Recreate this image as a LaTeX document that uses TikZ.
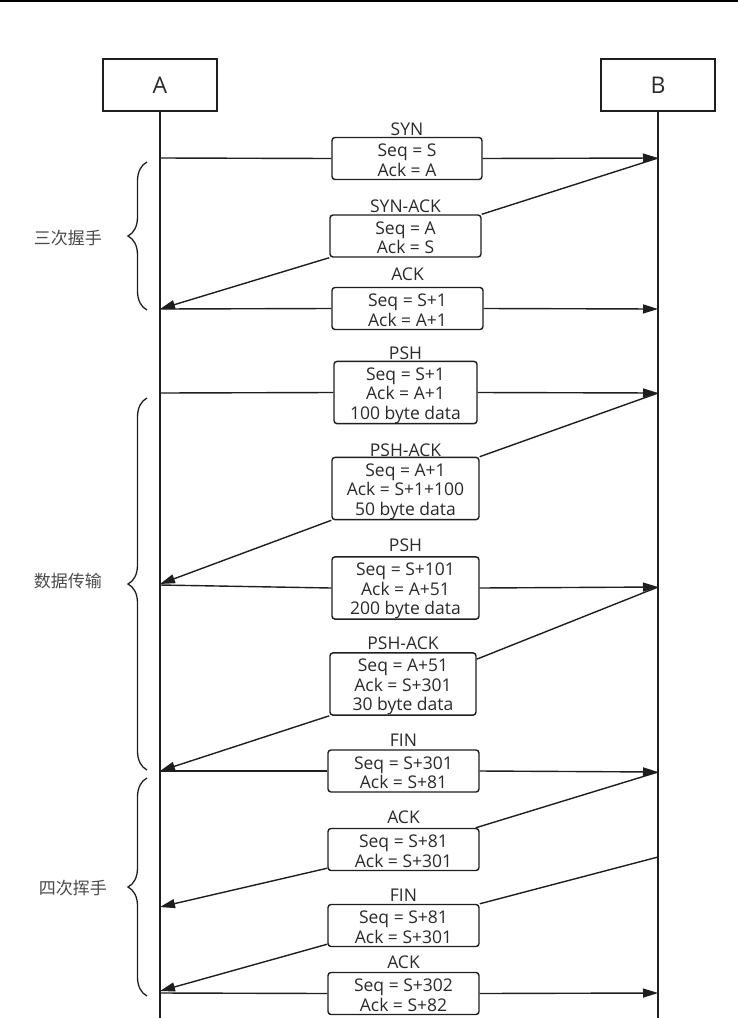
\documentclass[tikz,border=0pt]{standalone}
\usepackage{fontspec}
\setmainfont{Open Sans}
\newfontfamily\cjk{Noto Sans CJK SC}
\usetikzlibrary{arrows.meta,decorations.pathreplacing}
\definecolor{lineC}{HTML}{1E1E1E}
\definecolor{txtC}{HTML}{2A2A2A}
\definecolor{cjkC}{HTML}{4A4A4A}
\newcommand\myTopStrutA{\rule{0pt}{16pt}}
\newcommand\myTopStrutB{\rule{0pt}{19pt}}
\begin{document}
\begin{tikzpicture}[x=1pt,y=-1pt,
  ln/.style={draw=lineC, line width=1.4pt},
  arr/.style={ln, -{Triangle[length=15pt,width=9pt]}},
  ent/.style={ln, minimum width=114pt, minimum height=52pt, inner sep=0pt,
    font=\fontsize{23}{26}\selectfont, text=txtC},
  msg/.style={ln, fill=white, rounded corners=3pt, align=center, inner sep=0pt,
    font=\fontsize{17.5}{19.5}\selectfont, text=txtC, minimum height=42pt},
  msg3/.style={msg, minimum height=62pt},
  ttl/.style={inner sep=0pt, anchor=base, font=\fontsize{17.5}{19.5}\selectfont, text=txtC},
  phase/.style={font=\cjk\fontsize{17}{20}\selectfont, text=cjkC, anchor=east, inner sep=0pt},
  brc/.style={draw=lineC, line width=1.3pt, decorate, decoration={brace, amplitude=19pt, aspect=0.5}}
]
\useasboundingbox (0,0) rectangle (738,1018);
\fill[black] (0,0) rectangle (738,2);

% entities
\node[ent] (A) at (160,85) {A};
\node[ent] (B) at (658,85) {B};
\coordinate (Aend) at (160,1018);
\coordinate (Bend) at (658,1018);
\draw[ln] (A.south) -- (Aend);
\draw[ln] (B.south) -- (Bend);

% lifeline points
\coordinate (a1) at (160,158);  \coordinate (b1) at (658,158);
\coordinate (a2) at (160,309);
\coordinate (a3) at (160,309);  \coordinate (b3) at (658,309);
\coordinate (a4) at (160,393);  \coordinate (b4) at (658,393);
\coordinate (a5) at (160,584);
\coordinate (a6) at (160,585);  \coordinate (b6) at (658,587);
\coordinate (a7) at (160,771);
\coordinate (a8) at (160,771);  \coordinate (b8) at (658,772);
\coordinate (a9) at (160,907);
\coordinate (b10) at (658,857); \coordinate (a10) at (160,991);
\coordinate (a11) at (160,993); \coordinate (b11) at (658,993);

% message boxes
\node[msg, minimum width=150pt] (m1) at (407,158.5) {\myTopStrutA Seq = S\\Ack = A};
\node[msg, minimum width=151pt] (m2) at (405.5,236) {\myTopStrutA Seq = A\\Ack = S};
\node[msg, minimum width=151pt] (m3) at (407.5,308.5) {\myTopStrutA Seq = S+1\\Ack = A+1};
\node[msg3, minimum width=143pt] (m4) at (405.5,392.5) {\myTopStrutB Seq = S+1\\Ack = A+1\\100 byte data};
\node[msg3, minimum width=147pt] (m5) at (405.5,488.5) {\myTopStrutB Seq = A+1\\Ack = S+1+100\\50 byte data};
\node[msg3, minimum width=147pt] (m6) at (405.5,588) {\myTopStrutB Seq = S+101\\Ack = A+51\\200 byte data};
\node[msg3, minimum width=146pt] (m7) at (403,684) {\myTopStrutB Seq = A+51\\Ack = S+301\\30 byte data};
\node[msg, minimum width=151pt] (m8) at (403.5,771) {\myTopStrutA Seq = S+301\\Ack = S+81};
\node[msg, minimum width=151pt] (m9) at (403.5,849.5) {\myTopStrutA Seq = S+81\\Ack = S+301};
\node[msg, minimum width=151pt] (m10) at (403.5,925.5) {\myTopStrutA Seq = S+81\\Ack = S+301};
\node[msg, minimum width=151pt] (m11) at (403.5,993.5) {\myTopStrutA Seq = S+302\\Ack = S+82};

% titles
\node[ttl] (t1) at ([yshift=1.7pt]m1.north) {SYN};
\node[ttl] (t2) at ([yshift=1.5pt]m2.north) {SYN-ACK};
\node[ttl] (t3) at ([yshift=6.5pt]m3.north) {ACK};
\node[ttl] (t4) at ([yshift=1pt]m4.north) {PSH};
\node[ttl] (t5) at ([yshift=0.6pt]m5.north) {PSH-ACK};
\node[ttl] (t6) at ([yshift=4.3pt]m6.north) {PSH};
\node[ttl] (t7) at ([yshift=3pt]m7.north) {PSH-ACK};
\node[ttl] (t8) at ([yshift=2.7pt]m8.north) {FIN};
\node[ttl] (t9) at ([yshift=4.7pt]m9.north) {ACK};
\node[ttl] (t10) at ([yshift=2.3pt]m10.north) {FIN};
\node[ttl] (t11) at ([yshift=3.3pt]m11.north) {ACK};

% connectors
\draw[ln] (a1) -- (m1.west);   \draw[arr] (m1.east) -- (b1);
\draw[ln] (b1) -- (m2.north east); \draw[arr] (m2.south west) -- (a2);
\draw[ln] (a3) -- (m3.west);   \draw[arr] (m3.east) -- (b3);
\draw[ln] (a4) -- (m4.west);   \draw[arr] (m4.east) -- (b4);
\draw[ln] (b4) -- (m5.north east); \draw[arr] (m5.south west) -- (a5);
\draw[ln] (a6) -- (m6.west);   \draw[arr] (m6.east) -- (b6);
\draw[ln] (b6) -- ([yshift=-7pt]m7.north east); \draw[arr] (m7.south west) -- (a7);
\draw[ln] (a8) -- (m8.west);   \draw[arr] (m8.east) -- (b8);
\draw[ln] (b8) -- ([xshift=-4pt]m9.north east); \draw[arr] ([yshift=3pt]m9.south west) -- (a9);
\draw[ln] (b10) -- (m10.north east); \draw[arr] ([yshift=3pt]m10.south west) -- (a10);
\draw[ln] (a11) -- (m11.west); \draw[arr] (m11.east) -- (b11);

% braces
\coordinate (br1b) at (147,310); \coordinate (br1t) at (147,162);
\coordinate (br2b) at (147,770); \coordinate (br2t) at (147,398);
\coordinate (br3b) at (147,996); \coordinate (br3t) at (147,778);
\draw[brc] (br1b) -- (br1t);
\draw[brc] (br2b) -- (br2t);
\draw[brc] (br3b) -- (br3t);

\node[phase] (p1) at (102,238) {三次握手};
\node[phase] (p2) at (102,581) {数据传输};
\node[phase] (p3) at (107,888) {四次挥手};
\end{tikzpicture}
\end{document}
